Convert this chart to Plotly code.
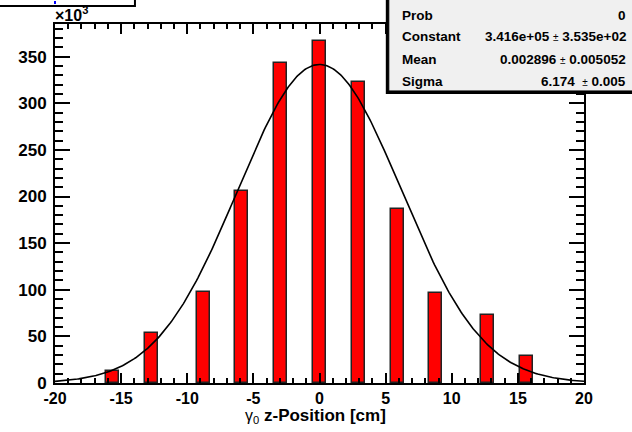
import numpy as np
import plotly.graph_objects as go

# ---- data ----
bin_centers = [-15.63, -12.71, -8.77, -5.88, -2.925, 0.0, 2.925, 5.88, 8.77, 12.71, 15.63]
counts = [13200, 53900, 98100, 206400, 343500, 366800, 323200, 186400, 96400, 73200, 29300]
bin_width = 1.0

fit_const = 3.416e5
fit_mean = 0.002896
fit_sigma = 6.174

y_tick_vals = [0, 50000, 100000, 150000, 200000, 250000, 300000, 350000]
y_tick_text = ["0", "50", "100", "150", "200", "250", "300", "350"]
x_tick_vals = [-20, -15, -10, -5, 0, 5, 10, 15, 20]
x_tick_text = ["-20", "-15", "-10", "-5", "0", "5", "10", "15", "20"]

stat_labels = ["Prob", "Constant", "Mean", "Sigma"]
stat_values = ["<b>0</b>",
               "<b>3.416e+05</b> <span style='font-size:10px'>±</span> <b>3.535e+02</b>",
               "<b>0.002896</b> <span style='font-size:10px'>±</span> <b>0.005052</b>",
               "<b>6.174</b>  <span style='font-size:10px'>±</span> <b>0.005</b>"]

# ---- layout geometry (pixels) ----
W, H = 632, 432
L, R, T, B = 55, 584.3, 24, 383.3


def px(x):
    return (x - L) / (R - L)


def py(y):
    return (B - y) / (B - T)


FONT = "Liberation Sans, Arial, Helvetica, sans-serif"

fx = np.linspace(-20, 20, 401)
fy = fit_const * np.exp(-0.5 * ((fx - fit_mean) / fit_sigma) ** 2)

fig = go.Figure()
fig.add_trace(go.Bar(
    x=bin_centers, y=counts, width=bin_width,
    marker=dict(color="#ff0000", line=dict(color="#222222", width=1.5)),
    showlegend=False, hoverinfo="x+y"))
fig.add_trace(go.Scatter(
    x=fx, y=fy, mode="lines", line=dict(color="black", width=1.6),
    showlegend=False, hoverinfo="skip"))

fig.update_layout(
    width=W, height=H,
    margin=dict(l=L, r=W - R, t=T, b=H - B, pad=0),
    paper_bgcolor="white", plot_bgcolor="white",
    font=dict(family=FONT, color="black"),
    bargap=0,
    xaxis=dict(
        range=[-20, 20], showgrid=False, zeroline=False,
        showline=True, linecolor="black", linewidth=2, mirror="ticks",
        ticks="inside", ticklen=10, tickwidth=1.5, tickcolor="black",
        tickvals=x_tick_vals, ticktext=x_tick_text,
        tickfont=dict(family=FONT, size=16, color="black", weight="bold"),
        minor=dict(dtick=1, ticks="inside", ticklen=5, tickwidth=1.5, tickcolor="black"),
    ),
    yaxis=dict(
        range=[0, 385000], showgrid=False, zeroline=False,
        showline=True, linecolor="black", linewidth=2, mirror="ticks",
        ticks="inside", ticklen=15, tickwidth=1.5, tickcolor="black",
        tickvals=y_tick_vals, ticktext=y_tick_text, ticklabelstandoff=3,
        tickfont=dict(family=FONT, size=17, color="black", weight="bold"),
        minor=dict(dtick=10000, ticks="inside", ticklen=8, tickwidth=1.5, tickcolor="black"),
    ),
)

shapes = []
# stats box shadow + box
shapes.append(dict(type="rect", xref="paper", yref="paper",
                   x0=px(386), x1=px(634), y0=py(94), y1=py(-5),
                   fillcolor="black", line=dict(width=0), layer="above"))
shapes.append(dict(type="rect", xref="paper", yref="paper",
                   x0=px(389), x1=px(634), y0=py(91), y1=py(-5),
                   fillcolor="#f0f0f0", line=dict(color="black", width=1), layer="above"))
# title box (cut off at top)
shapes.append(dict(type="rect", xref="paper", yref="paper",
                   x0=px(-5), x1=px(135), y0=py(6), y1=py(-10),
                   fillcolor="white", line=dict(color="black", width=2), layer="above"))
shapes.append(dict(type="line", xref="paper", yref="paper",
                   x0=px(55), x1=px(55), y0=py(4), y1=py(1),
                   line=dict(color="blue", width=2), layer="above"))
fig.update_layout(shapes=shapes)

ann = []
row_y = [15, 37, 60, 82]
for lab, val, yy in zip(stat_labels, stat_values, row_y):
    ann.append(dict(xref="paper", yref="paper", x=px(400), y=py(yy), text="<b>" + lab + "</b>",
                    showarrow=False, xanchor="left", yanchor="middle",
                    font=dict(family=FONT, size=13.5, color="black")))
    ann.append(dict(xref="paper", yref="paper", x=px(628), y=py(yy), text=val,
                    showarrow=False, xanchor="right", yanchor="middle",
                    font=dict(family=FONT, size=13.5, color="black")))
# x10^3
ann.append(dict(xref="paper", yref="paper", x=px(53), y=py(26), text="<b>×10<sup>3</sup></b>",
                showarrow=False, xanchor="left", yanchor="bottom",
                font=dict(family=FONT, size=16, color="black")))
# x axis title
ann.append(dict(xref="paper", yref="paper", x=px(243), y=py(416),
                text="<span style='font-size:16px'>γ<sub>0</sub></span> <b>z-Position [cm]</b>",
                showarrow=False, xanchor="left", yanchor="middle",
                font=dict(family=FONT, size=17, color="black")))
fig.update_layout(annotations=ann)

fig.write_html("out.html")
